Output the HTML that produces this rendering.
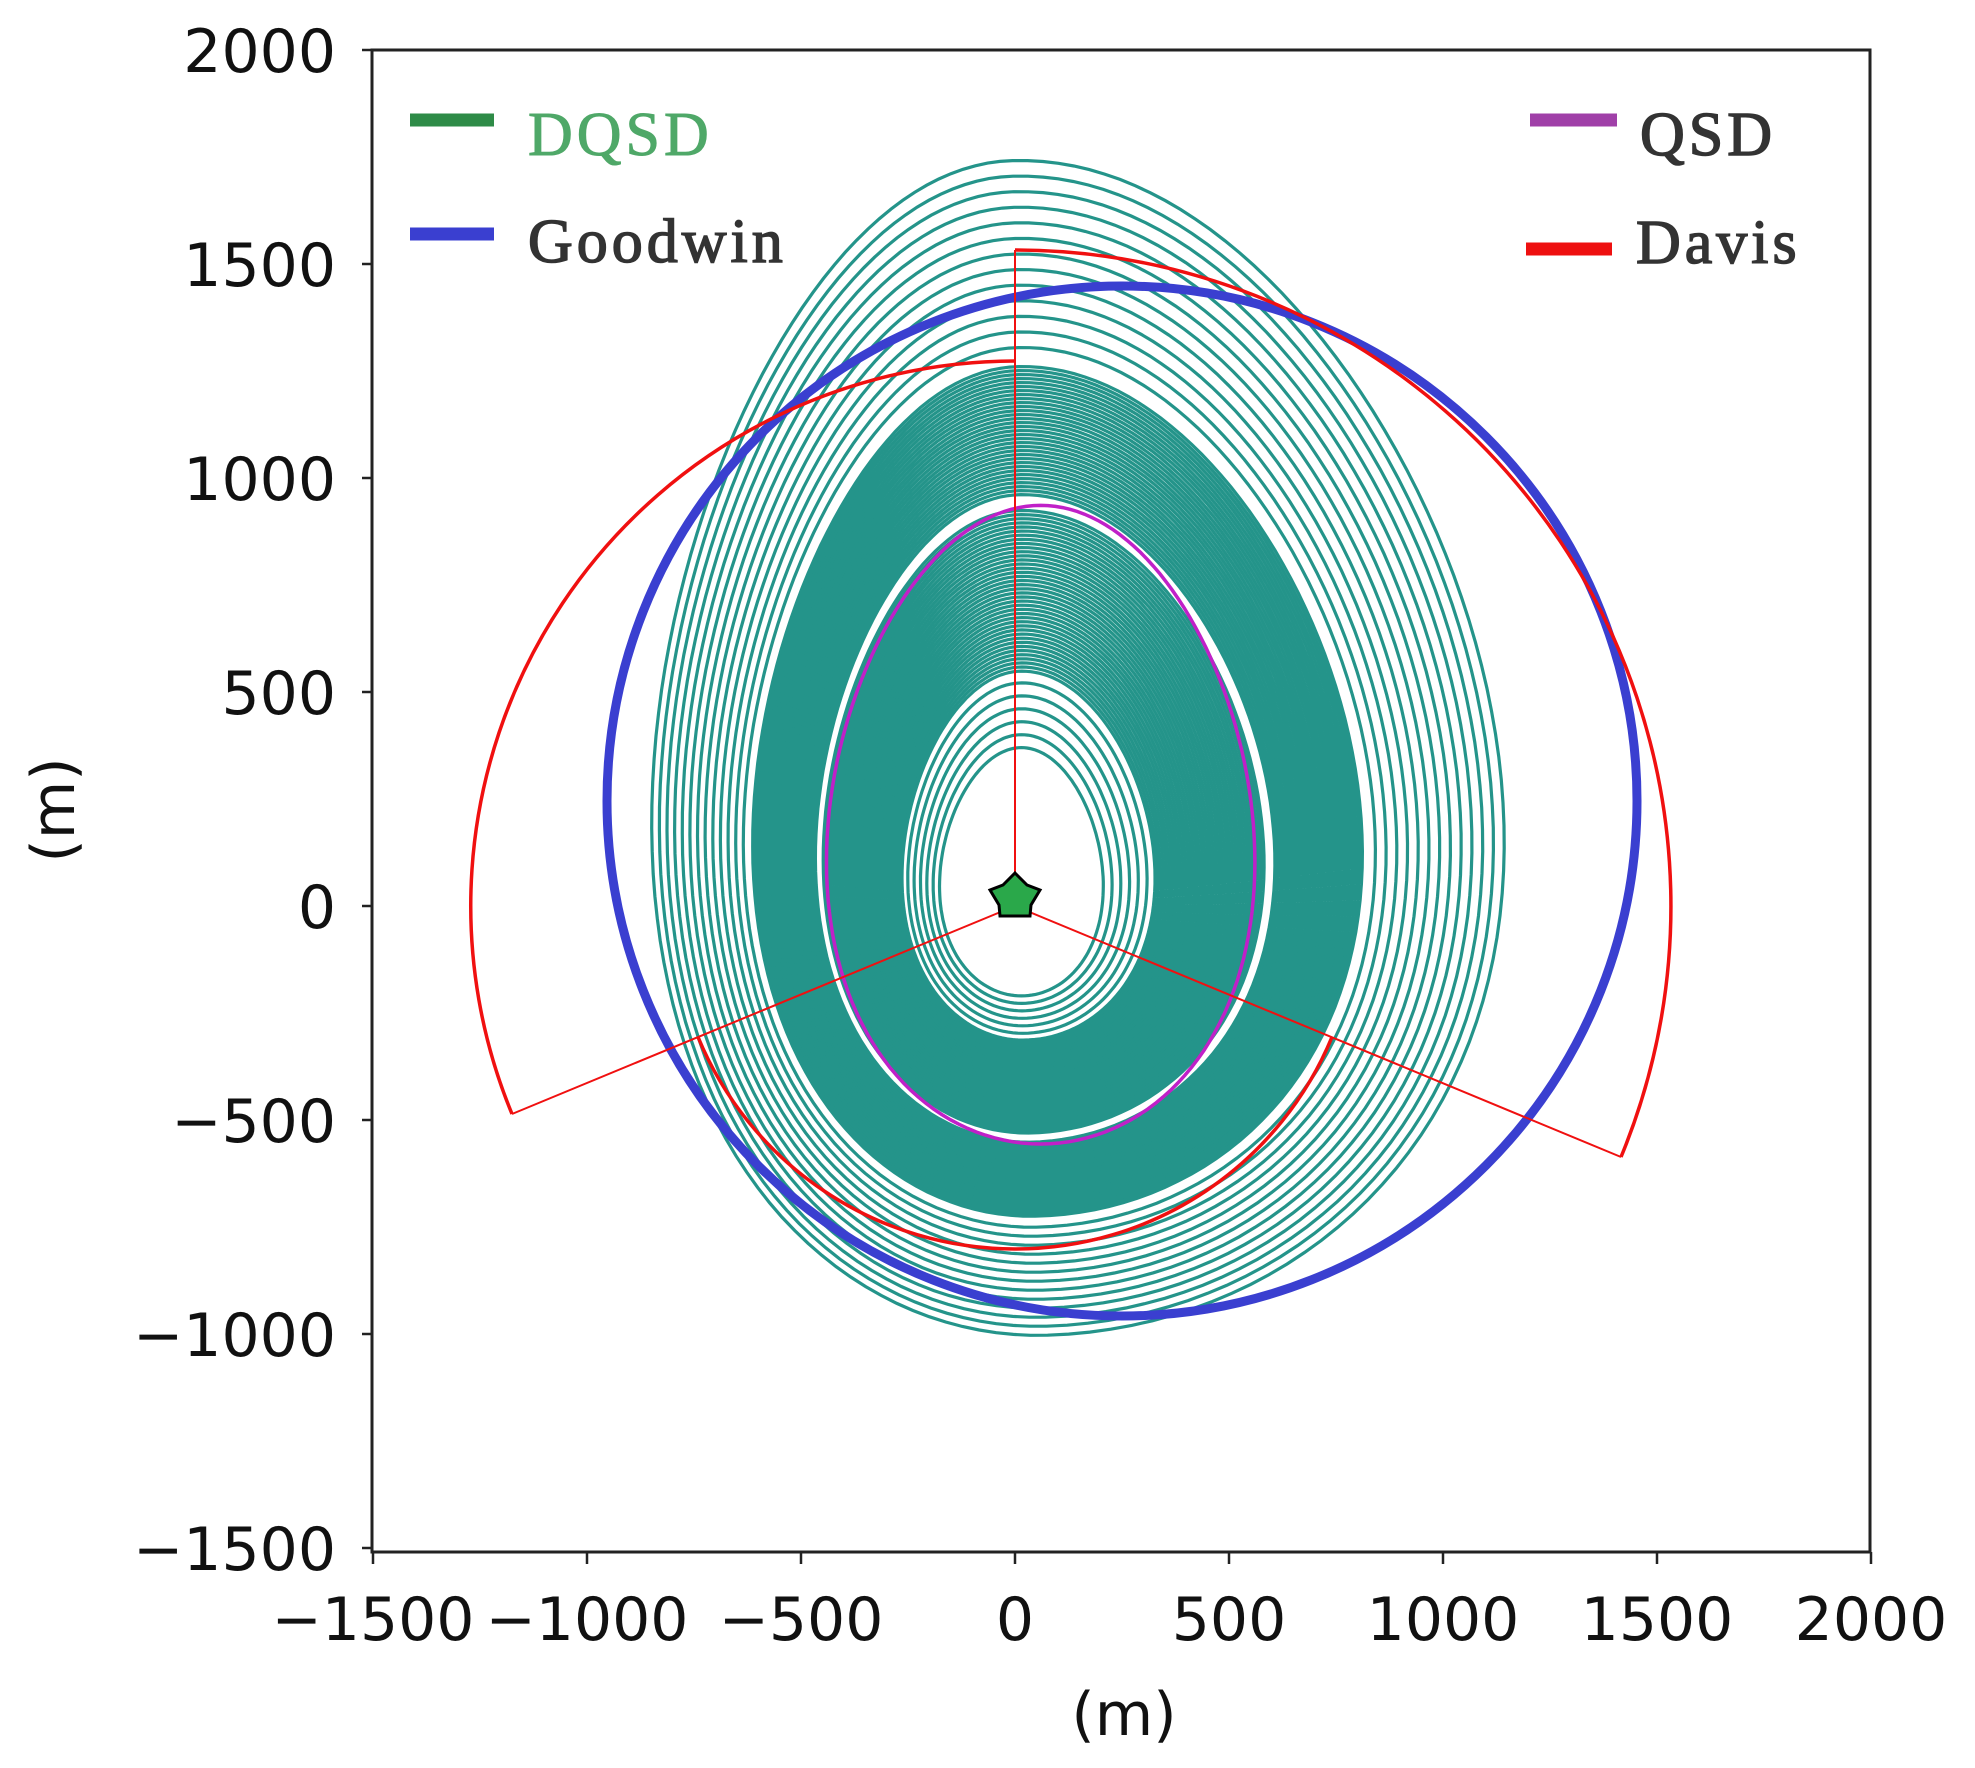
<!DOCTYPE html>
<html><head><meta charset="utf-8"><style>
html,body{margin:0;padding:0;background:#fff;}
svg{display:block;}
.tk{font-family:"DejaVu Sans","Liberation Sans",sans-serif;font-size:60px;fill:#111;}
.lg{font-family:"Liberation Serif",serif;font-size:62px;letter-spacing:4px;}
</style></head><body>
<svg id="s" width="1975" height="1768" viewBox="0 0 1975 1768" xmlns="http://www.w3.org/2000/svg">
<rect width="1975" height="1768" fill="#fff"/>
<g id="teal" fill="none" stroke="#24948a" stroke-width="3.2"></g>
<path id="qsd" fill="none" stroke="#c020c8" stroke-width="3.5"/>
<circle cx="1122" cy="801" r="515" fill="none" stroke="#3a3fd0" stroke-width="9"/>
<g fill="none" stroke="#f01010">
<path d="M1015,906 L1015,250 M1015,906 L1621,1157 M1015,906 L512,1114" stroke-width="2"/>
<path d="M1015,250 A656,656 0 0 1 1621,1157 M1332,1037 A343,343 0 0 1 698,1037 M512,1114 A545,545 0 0 1 1015,361" stroke-width="3.5"/>
</g>
<polygon points="1015,873 1027,885 1040,890 1031,905 1030,916 1015,916 1000,916 999,905 990,890 1003,885" fill="#2aa84a" stroke="#000" stroke-width="3"/>
<rect x="372" y="50" width="1498" height="1502" fill="none" stroke="#222" stroke-width="3"/>
<g id="ticks" stroke="#222" stroke-width="2.5"></g>
<g id="labels"></g>
<text class="tk" x="1124" y="1735" text-anchor="middle">(m)</text>
<text class="tk" transform="translate(74,810) rotate(-90)" text-anchor="middle">(m)</text>
<line x1="410" y1="120" x2="494" y2="120" stroke="#2e8b47" stroke-width="13"/>
<text class="lg" x="528" y="155" fill="#4fa868" stroke="#4fa868" stroke-width="1">DQSD</text>
<line x1="410" y1="234" x2="494" y2="234" stroke="#3a3fd0" stroke-width="13"/>
<text class="lg" x="528" y="262" fill="#333" stroke="#333" stroke-width="1.5">Goodwin</text>
<line x1="1530" y1="120" x2="1617" y2="120" stroke="#a040a8" stroke-width="13"/>
<text class="lg" x="1640" y="155" fill="#333" stroke="#333" stroke-width="1.5">QSD</text>
<line x1="1526" y1="249" x2="1612" y2="249" stroke="#ee1010" stroke-width="13"/>
<text class="lg" x="1636" y="263" fill="#333" stroke="#333" stroke-width="1.5">Davis</text>
</svg>
<script>
var NS="http://www.w3.org/2000/svg";
var k=0.428, ox=1015, oy=906;
function X(x){return ox+x*k;} function Y(y){return oy-y*k;}
function egg(cx,cy,rxL,rxR,ry,rot,e){
 var d="",c=Math.cos(rot),s=Math.sin(rot);
 for(var i=0;i<=160;i++){var t=i/160*2*Math.PI;
  var ct=Math.cos(t), rx=ct>0?rxR:rxL;
  var px=ct*rx*(1-e*Math.sin(t)), py=Math.sin(t)*ry;
  var x=cx+px*c-py*s, y=cy+px*s+py*c;
  d+=(i?"L":"M")+X(x).toFixed(1)+","+Y(y).toFixed(1);}
 return d+"Z";}
var g=document.getElementById("teal");
function add(t){
 var cx=15+t*20, cy=80+t*290, rxL=190+t*690, rxR=190+t*900, ry=290+t*1085, rot=t*0.03, e=0.12+t*0.04;
 var p=document.createElementNS(NS,"path");p.setAttribute("d",egg(cx,cy,rxL,rxR,ry,rot,e));g.appendChild(p);}
var ts=[];
for(var i=0;i<6;i++)ts.push(i*0.022);
for(var i=0;i<40;i++)ts.push(0.13+i*0.007);
for(var i=0;i<33;i++)ts.push(0.43+i*0.0068);
for(var i=0;i<13;i++)ts.push(0.68+i*0.0265);
ts.forEach(add);
document.getElementById("qsd").setAttribute("d",egg(60,190,497,497,746,0,0.12));
var tk=document.getElementById("ticks"),lb=document.getElementById("labels");
function ln(a,b,c,d){var l=document.createElementNS(NS,"line");l.setAttribute("x1",a);l.setAttribute("y1",b);l.setAttribute("x2",c);l.setAttribute("y2",d);tk.appendChild(l);}
function tx(x,y,s,a){var t=document.createElementNS(NS,"text");t.setAttribute("class","tk");t.setAttribute("x",x);t.setAttribute("y",y);t.setAttribute("text-anchor",a);t.textContent=s;lb.appendChild(t);}
for(var v=-1500;v<=2000;v+=500){
 var lab=(v<0?"\u2212"+(-v):""+v);
 var x=X(v);ln(x,1552,x,1564);tx(x,1640,lab,"middle");
 var y=Y(v);ln(362,y,372,y);tx(336,y+22,lab,"end");
}
</script>
</body></html>
